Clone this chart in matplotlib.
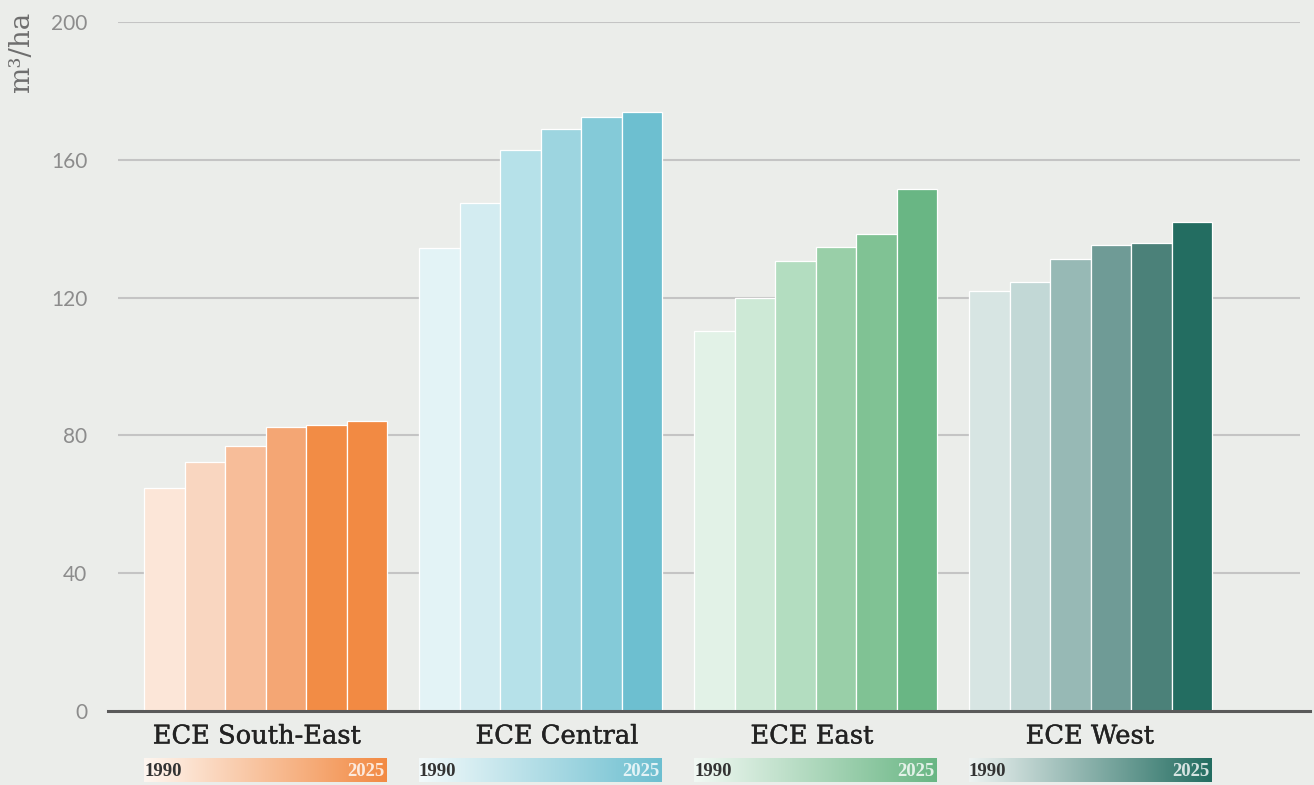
import numpy as np
import matplotlib
matplotlib.use("Agg")
import matplotlib.pyplot as plt
import matplotlib.patheffects as pe
from matplotlib.colors import LinearSegmentedColormap

# ---- data ----
regions = ["ECE South-East", "ECE Central", "ECE East", "ECE West"]
years = ["1990", "2000", "2005", "2010", "2015", "2025"]
south_east = [64.6, 72.2, 76.9, 82.3, 83.0, 84.2]
central = [134.3, 147.6, 162.9, 168.8, 172.5, 174.0]
east = [110.4, 120.0, 130.7, 134.6, 138.5, 151.4]
west = [121.9, 124.5, 131.2, 135.4, 135.9, 141.9]
yticks = [0, 40, 80, 120, 160, 200]
legend_start, legend_end = "1990", "2025"

series = [south_east, central, east, west]
palettes = [
    ["#FCE6D8", "#F9D6C0", "#F7BD99", "#F4A674", "#F28C45", "#F28A43"],
    ["#E3F3F6", "#D3ECF1", "#B6E1E9", "#9DD5E0", "#84CAD8", "#6DBFD0"],
    ["#E2F2E7", "#CDE9D6", "#B3DDC0", "#99CFA8", "#80C294", "#69B684"],
    ["#D7E5E3", "#C2D8D6", "#97B9B5", "#6F9B96", "#4B8179", "#236D61"],
]
grad_start = ["#FEF6F0", "#F3FAFB", "#F2F9F4", "#EEF3F2"]

BG = "#EBEDEA"
W, H = 1314, 785
fig = plt.figure(figsize=(W / 100, H / 100), dpi=100, facecolor=BG)

ax_l, ax_r, ax_t, ax_b = 118, 1300, 22, 711
ax = fig.add_axes([ax_l / W, 1 - ax_b / H, (ax_r - ax_l) / W, (ax_b - ax_t) / H])
ax.set_facecolor(BG)

unit = 40.5
group_step = 275 / unit
x0 = -0.5 - (144 - ax_l) / unit
x1 = x0 + (ax_r - ax_l) / unit
ax.set_xlim(x0, x1)
ax.set_ylim(0, 200)

for g, vals in enumerate(series):
    xs = g * group_step + np.arange(len(vals))
    ax.bar(xs, vals, width=1.0, color=palettes[g], edgecolor="white",
           linewidth=0.9, zorder=3)

ax.set_yticks(yticks)
ax.set_yticklabels([str(t) for t in yticks], fontsize=15, color="#8C8C8C",
                   family="Lato")
ax.tick_params(axis="y", length=0, pad=22)
ax.set_xticks([])
ax.grid(axis="y", color="#C4C4C4", linewidth=1.5, zorder=0)
for s in ax.spines.values():
    s.set_visible(False)
# x-axis baseline
ax.plot([-(ax_l - 108) / (ax_r - ax_l), 1 + (1310 - ax_r) / (ax_r - ax_l)], [0, 0],
        transform=ax.transAxes, color="#5A5A5A", linewidth=2.2, clip_on=False, zorder=5)

# region labels
label_px = [257, 557, 812, 1090]
for name, px in zip(regions, label_px):
    fig.text(px / W, 1 - 736 / H, name, ha="center", va="center",
             fontsize=18.5, family="DejaVu Serif", color="#222222",
             path_effects=[pe.withStroke(linewidth=0.3, foreground="#222222")])

# y label
fig.text(22 / W, 1 - 52 / H, "m³/ha", rotation=90, ha="center", va="center",
         fontsize=20, family="DejaVu Serif", color="#6E6E6E")

# gradient legends
def data_to_px(x):
    return ax_l + (x - x0) * unit

grad = np.linspace(0, 1, 256).reshape(1, -1)
for g, vals in enumerate(series):
    left = data_to_px(g * group_step - 0.5)
    right = data_to_px(g * group_step + len(vals) - 0.5)
    lax = fig.add_axes([left / W, 1 - 782 / H, (right - left) / W, 24 / H])
    cmap = LinearSegmentedColormap.from_list("g", [grad_start[g], palettes[g][-1]])
    lax.imshow(grad, aspect="auto", cmap=cmap, extent=[0, 1, 0, 1])
    lax.set_axis_off()
    lax.text(0.0, 0.45, legend_start, transform=lax.transAxes, ha="left",
             va="center", fontsize=13.5, family="Liberation Serif",
             fontweight="bold", color="#333333")
    lax.text(0.99, 0.45, legend_end, transform=lax.transAxes, ha="right",
             va="center", fontsize=13.5, family="Liberation Serif",
             fontweight="bold", color="white", alpha=0.8)

fig.savefig("out.png", dpi=100, facecolor=BG)
